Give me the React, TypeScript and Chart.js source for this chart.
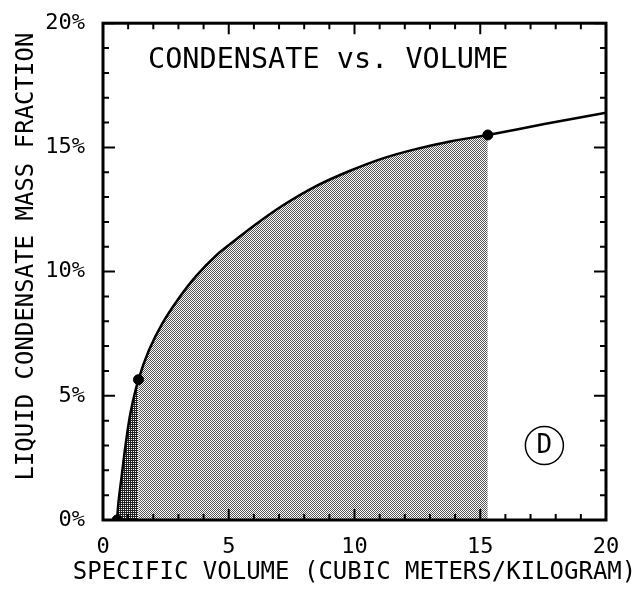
import React, { useEffect, useRef } from "react";
import { Chart, registerables } from "chart.js";

Chart.register(...registerables);

// ---- data ----
const curveX = [0.56, 0.61, 0.74, 0.9, 1.1, 1.41, 1.83, 2.35, 3.03, 3.7, 4.5, 5.3, 6.0, 7.13, 8.49, 9.8, 11.1, 12.47, 13.8, 15.3, 17.6, 20];
const curveY = [0, 0.67, 1.75, 3.04, 4.35, 5.65, 6.84, 7.9, 8.95, 9.82, 10.65, 11.3, 11.85, 12.65, 13.45, 14.05, 14.55, 14.94, 15.24, 15.5, 15.95, 16.4];
const markerX = [0.56, 1.41, 15.3];
const markerY = [0, 5.65, 15.5];
const darkRange = [0.56, 1.41];
const lightRange = [1.41, 15.3];
const xTickLabels = ["0", "5", "10", "15", "20"];
const yTickLabels = ["0%", "5%", "10%", "15%", "20%"];
const chartTitle = "CONDENSATE vs. VOLUME";
const xTitle = "SPECIFIC VOLUME (CUBIC METERS/KILOGRAM)";
const yTitle = "LIQUID CONDENSATE MASS FRACTION";
const badgeText = "D";
const badgeX = 17.55;
const badgeY = 3.0;

const FONT = "'DejaVu Sans Mono', monospace";

function makePattern(darkCells: number[][], dark: string, light: string) {
  const n = darkCells.length;
  const c = document.createElement("canvas");
  c.width = n;
  c.height = n;
  const g = c.getContext("2d")!;
  g.fillStyle = light;
  g.fillRect(0, 0, n, n);
  g.fillStyle = dark;
  for (let r = 0; r < n; r++)
    for (let k = 0; k < n; k++) if (darkCells[r][k]) g.fillRect(k, r, 1, 1);
  return g.createPattern(c, "repeat")!;
}

function pts(xs: number[], ys: number[]) {
  return xs.map((x, i) => ({ x, y: ys[i] }));
}

function rangePts(range: number[]) {
  return pts(curveX, curveY).filter((p) => p.x >= range[0] - 1e-9 && p.x <= range[1] + 1e-9);
}

const framePlugin = {
  id: "frameTicks",
  afterDatasetsDraw(chart: any) {
    const { ctx, chartArea: a, scales } = chart;
    const x = scales.x;
    const y = scales.y;
    ctx.save();
    ctx.strokeStyle = "#000";
    ctx.lineWidth = 2;
    ctx.beginPath();
    for (let v = x.min; v <= x.max; v++) {
      const px = x.getPixelForValue(v);
      const len = v % 5 === 0 ? 11 : 6;
      ctx.moveTo(px, a.bottom);
      ctx.lineTo(px, a.bottom - len);
      ctx.moveTo(px, a.top);
      ctx.lineTo(px, a.top + len);
    }
    for (let v = y.min; v <= y.max; v++) {
      const py = y.getPixelForValue(v);
      const len = v % 5 === 0 ? 12 : 6;
      ctx.moveTo(a.left, py);
      ctx.lineTo(a.left + len, py);
      ctx.moveTo(a.right, py);
      ctx.lineTo(a.right - len, py);
    }
    ctx.stroke();
    ctx.lineWidth = 3;
    ctx.strokeRect(a.left, a.top, a.width, a.height);

    ctx.fillStyle = "#000";
    // title inside the plot
    ctx.font = `28.5px ${FONT}`;
    ctx.textAlign = "left";
    ctx.textBaseline = "middle";
    ctx.fillText(chartTitle, a.left + 45, a.top + 37);

    // axis titles
    ctx.font = `24px ${FONT}`;
    ctx.textAlign = "center";
    ctx.fillText(xTitle, (a.left + a.right) / 2, a.bottom + 53);
    ctx.save();
    ctx.translate(a.left - 76, (a.top + a.bottom) / 2 - 15);
    ctx.rotate(-Math.PI / 2);
    ctx.fillText(yTitle, 0, 0);
    ctx.restore();

    // circled badge
    const bx = x.getPixelForValue(badgeX);
    const by = y.getPixelForValue(badgeY);
    ctx.lineWidth = 1.5;
    ctx.beginPath();
    ctx.arc(bx, by, 19, 0, Math.PI * 2);
    ctx.stroke();
    ctx.font = `26px ${FONT}`;
    ctx.textAlign = "center";
    ctx.fillText(badgeText, bx, by + 1);
    ctx.restore();
  },
};

export default function App() {
  const ref = useRef<HTMLCanvasElement>(null);
  useEffect(() => {
    const canvas = ref.current!;
    const lightPat = makePattern([[1, 0], [0, 1]], "#555555", "#ffffff");
    const darkPat = makePattern([[1, 1], [1, 0]], "#222222", "#ffffff");
    const lineOpts = { tension: 0.35, pointRadius: 0 };
    const chart = new Chart(canvas, {
      type: "line",
      data: {
        datasets: [
          {
            label: "markers",
            data: pts(markerX, markerY),
            showLine: false,
            pointRadius: 5,
            pointBackgroundColor: "#000",
            pointBorderColor: "#000",
            order: 0,
          },
          {
            label: "curve",
            data: pts(curveX, curveY),
            borderColor: "#000",
            borderWidth: 2.5,
            ...lineOpts,
            fill: false,
            order: 1,
          },
          {
            label: "light",
            data: rangePts(lightRange),
            borderWidth: 0,
            borderColor: "rgba(0,0,0,0)",
            ...lineOpts,
            backgroundColor: lightPat,
            fill: "origin",
            order: 2,
          },
          {
            label: "dark",
            data: rangePts(darkRange),
            borderWidth: 0,
            borderColor: "rgba(0,0,0,0)",
            ...lineOpts,
            backgroundColor: darkPat,
            fill: "origin",
            order: 3,
          },
        ],
      },
      options: {
        animation: false,
        responsive: false,
        layout: { padding: { top: 14, right: 35, left: 0, bottom: 0 } },
        plugins: {
          legend: { display: false },
          tooltip: { enabled: false },
        },
        scales: {
          x: {
            type: "linear",
            min: 0,
            max: 20,
            grid: { display: false },
            border: { display: false },
            ticks: {
              stepSize: 5,
              autoSkip: false,
              maxRotation: 0,
              padding: 6,
              color: "#000",
              font: { family: FONT, size: 22 },
              callback: (v: any) => xTickLabels[Math.round(Number(v) / 5)],
            },
            title: { display: false },
            afterFit: (s: any) => {
              s.height = 74;
            },
          },
          y: {
            type: "linear",
            min: 0,
            max: 20,
            grid: { display: false },
            border: { display: false },
            ticks: {
              stepSize: 5,
              autoSkip: false,
              padding: 10,
              color: "#000",
              font: { family: FONT, size: 22 },
              callback: (v: any) => yTickLabels[Math.round(Number(v) / 5)],
            },
            title: { display: false },
            afterFit: (s: any) => {
              s.width = 103;
            },
          },
        },
      },
      plugins: [framePlugin],
    });
    return () => chart.destroy();
  }, []);
  return (
    <div style={{ position: "absolute", left: 0, top: 0, width: 641, height: 594, background: "#fff" }}>
      <canvas ref={ref} width={641} height={594} style={{ display: "block" }} />
    </div>
  );
}
